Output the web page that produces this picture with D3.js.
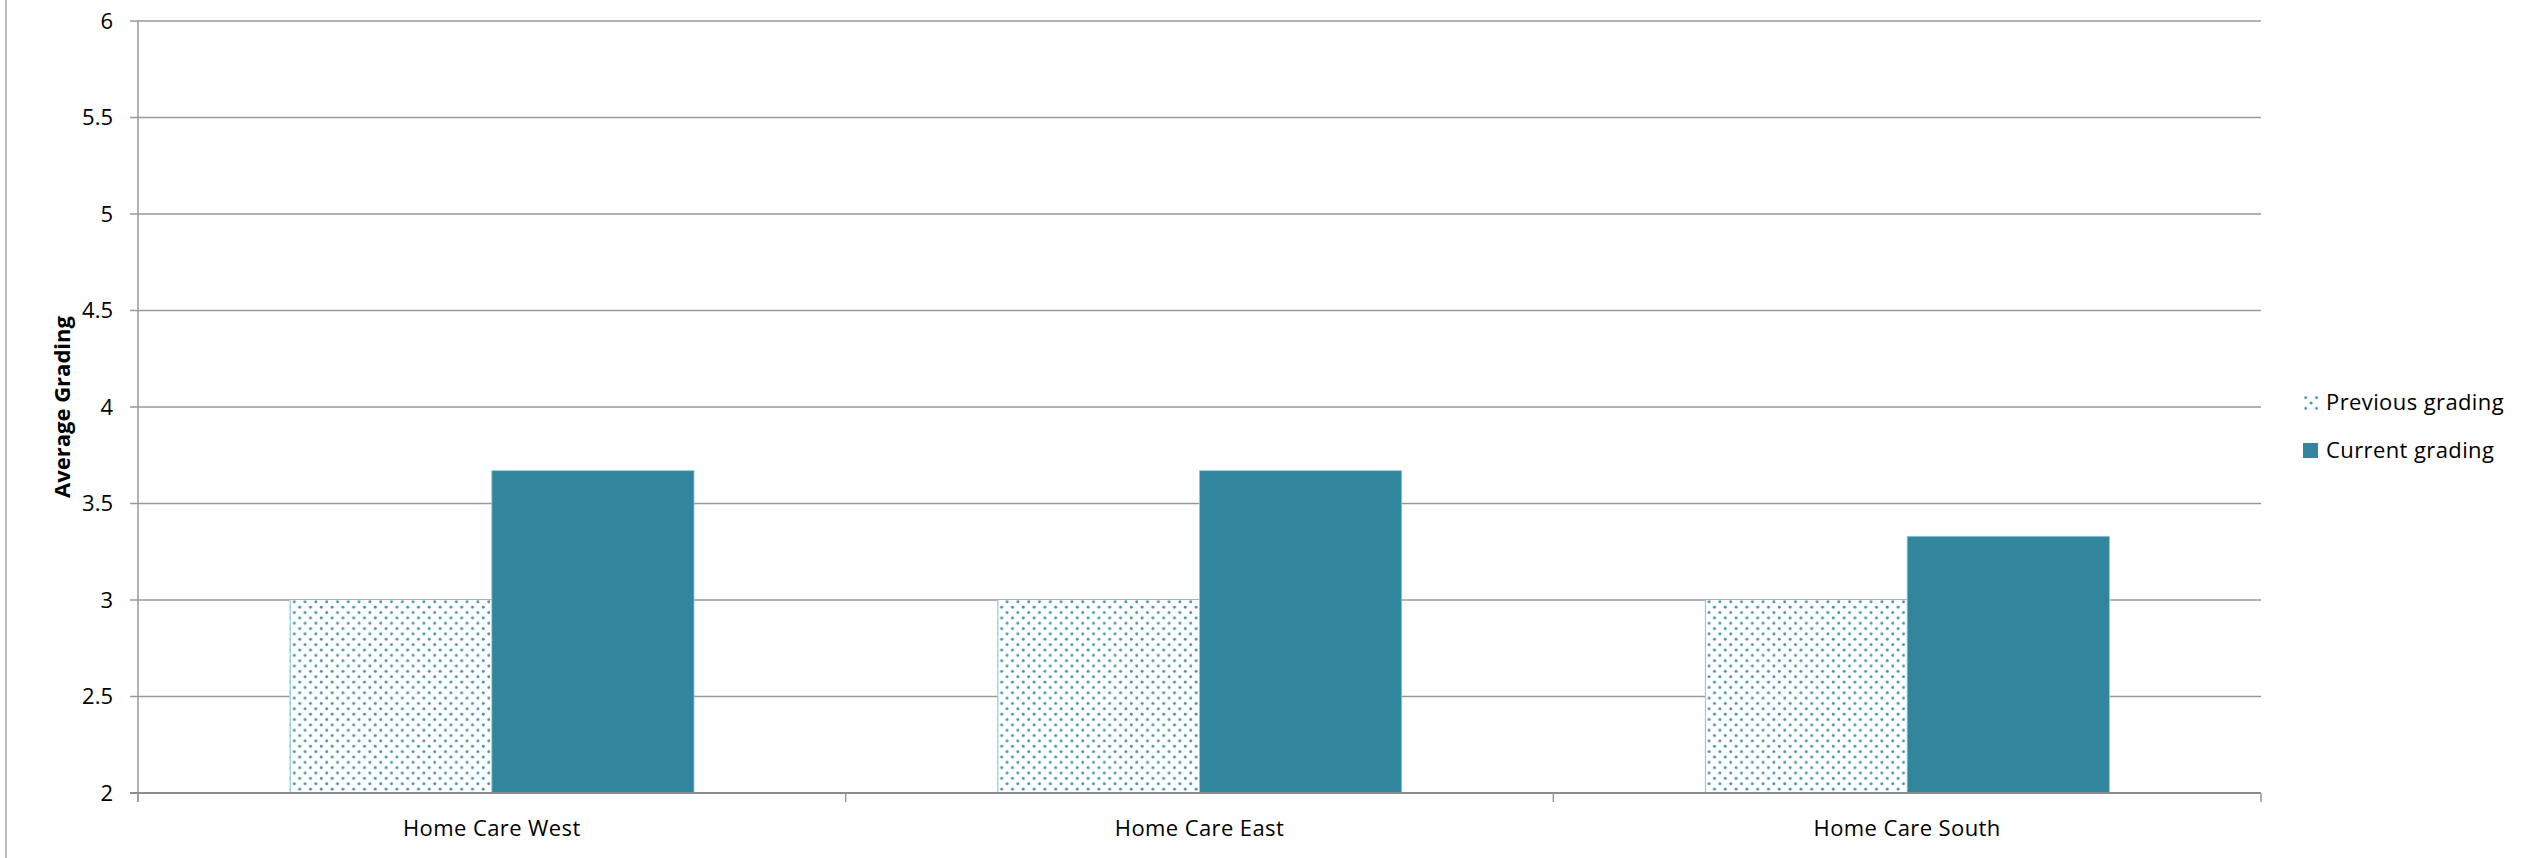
<!DOCTYPE html>
<html>
<head>
<meta charset="utf-8">
<script src="https://cdn.jsdelivr.net/npm/d3@7"></script>
<style>
  body { margin: 0; background: #fff; }
  text { font-family: "Open Sans", "Noto Sans", sans-serif; fill: #000; }
</style>
</head>
<body>
<div id="chart"></div>
<script>
// dados do grafico
const categories = ['Home Care West', 'Home Care East', 'Home Care South'];
const previousGrading = [3, 3, 3];
const currentGrading = [3.67, 3.67, 3.33];
const yTicks = [2, 2.5, 3, 3.5, 4, 4.5, 5, 5.5, 6];
const seriesNames = ['Previous grading', 'Current grading'];

const W = 2529, H = 858;
const plotLeft = 138, plotRight = 2261, plotTop = 21, plotBottom = 793;
const gridColor = '#999999';
const teal = '#31859c';

const svg = d3.select('#chart')
  .append('svg')
  .attr('width', W)
  .attr('height', H);

// padrao pontilhado da serie anterior
const pat = svg.append('defs').append('pattern')
  .attr('id', 'dots')
  .attr('patternUnits', 'userSpaceOnUse')
  .attr('width', 10.8)
  .attr('height', 10.7);
pat.append('rect').attr('width', 10.8).attr('height', 10.7).attr('fill', '#fff');
pat.append('circle').attr('cx', 2.7).attr('cy', 2.7).attr('r', 1.45).attr('fill', '#3f93aa');
pat.append('circle').attr('cx', 8.1).attr('cy', 8.05).attr('r', 1.45).attr('fill', '#3f93aa');

// borda esquerda do quadro
svg.append('line')
  .attr('x1', 6).attr('x2', 6)
  .attr('y1', 0).attr('y2', H)
  .attr('stroke', '#a6a6a6')
  .attr('stroke-width', 1.5);

const y = d3.scaleLinear().domain([2, 6]).range([plotBottom, plotTop]);
const x = d3.scaleBand().domain(categories).range([plotLeft, plotRight]).padding(0);
const barW = x.bandwidth() / 3.5;

// linhas de grade
svg.selectAll('line.grid')
  .data(yTicks)
  .enter()
  .append('line')
  .attr('class', 'grid')
  .attr('x1', plotLeft - 8)
  .attr('x2', plotRight)
  .attr('y1', d => y(d))
  .attr('y2', d => y(d))
  .attr('stroke', gridColor)
  .attr('stroke-width', 1.5);

// rotulos do eixo y
svg.selectAll('text.ytick')
  .data(yTicks)
  .enter()
  .append('text')
  .attr('class', 'ytick')
  .attr('x', 113)
  .attr('y', d => y(d))
  .attr('dy', '0.36em')
  .attr('text-anchor', 'end')
  .attr('font-size', '22px')
  .text(d => d);

// barras
svg.selectAll('rect.prev')
  .data(categories)
  .enter()
  .append('rect')
  .attr('class', 'prev')
  .attr('x', (d, i) => x(d) + barW * 0.75)
  .attr('y', (d, i) => y(previousGrading[i]))
  .attr('width', barW)
  .attr('height', (d, i) => y(2) - y(previousGrading[i]))
  .attr('fill', 'url(#dots)');

svg.selectAll('line.prevedge')
  .data(categories)
  .enter()
  .append('line')
  .attr('class', 'prevedge')
  .attr('x1', d => x(d) + barW * 0.75 + 0.5)
  .attr('x2', d => x(d) + barW * 0.75 + 0.5)
  .attr('y1', (d, i) => y(previousGrading[i]))
  .attr('y2', y(2))
  .attr('stroke', '#8ccfe0')
  .attr('stroke-width', 1.2);

svg.selectAll('rect.cur')
  .data(categories)
  .enter()
  .append('rect')
  .attr('class', 'cur')
  .attr('x', d => x(d) + barW * 1.75)
  .attr('y', (d, i) => y(currentGrading[i]))
  .attr('width', barW)
  .attr('height', (d, i) => y(2) - y(currentGrading[i]))
  .attr('fill', teal)
  .attr('stroke', '#8fc9d8')
  .attr('stroke-width', 0.8);

// eixos
svg.append('line')
  .attr('x1', plotLeft).attr('x2', plotLeft)
  .attr('y1', plotTop).attr('y2', plotBottom + 9)
  .attr('stroke', gridColor).attr('stroke-width', 1.5);

svg.append('line')
  .attr('x1', plotLeft - 8).attr('x2', plotRight)
  .attr('y1', plotBottom).attr('y2', plotBottom)
  .attr('stroke', '#8c8c8c').attr('stroke-width', 2);

const xTicks = categories.map(d => x(d)).concat([plotRight]);
svg.selectAll('line.xtick')
  .data(xTicks)
  .enter()
  .append('line')
  .attr('class', 'xtick')
  .attr('x1', d => d).attr('x2', d => d)
  .attr('y1', plotBottom).attr('y2', plotBottom + 9)
  .attr('stroke', gridColor).attr('stroke-width', 1.5);

svg.selectAll('text.xlab')
  .data(categories)
  .enter()
  .append('text')
  .attr('class', 'xlab')
  .attr('x', d => x(d) + x.bandwidth() / 2)
  .attr('y', 836)
  .attr('text-anchor', 'middle')
  .attr('font-size', '22px')
  .attr('letter-spacing', '0.4px')
  .text(d => d);

// titulo do eixo y
svg.append('text')
  .attr('transform', `translate(70, ${(plotTop + plotBottom) / 2}) rotate(-90)`)
  .attr('text-anchor', 'middle')
  .attr('font-size', '22px')
  .attr('font-weight', 'bold')
  .text('Average Grading');

// legenda
const leg = svg.selectAll('g.leg')
  .data(seriesNames)
  .enter()
  .append('g')
  .attr('class', 'leg')
  .attr('transform', (d, i) => `translate(2303, ${395 + i * 48})`);

leg.append('rect')
  .attr('width', 15)
  .attr('height', 15)
  .attr('fill', (d, i) => i === 0 ? 'url(#dots)' : teal);

leg.append('text')
  .attr('x', 23)
  .attr('y', 15)
  .attr('font-size', '22px')
  .attr('letter-spacing', '0.4px')
  .text(d => d);
</script>
</body>
</html>
